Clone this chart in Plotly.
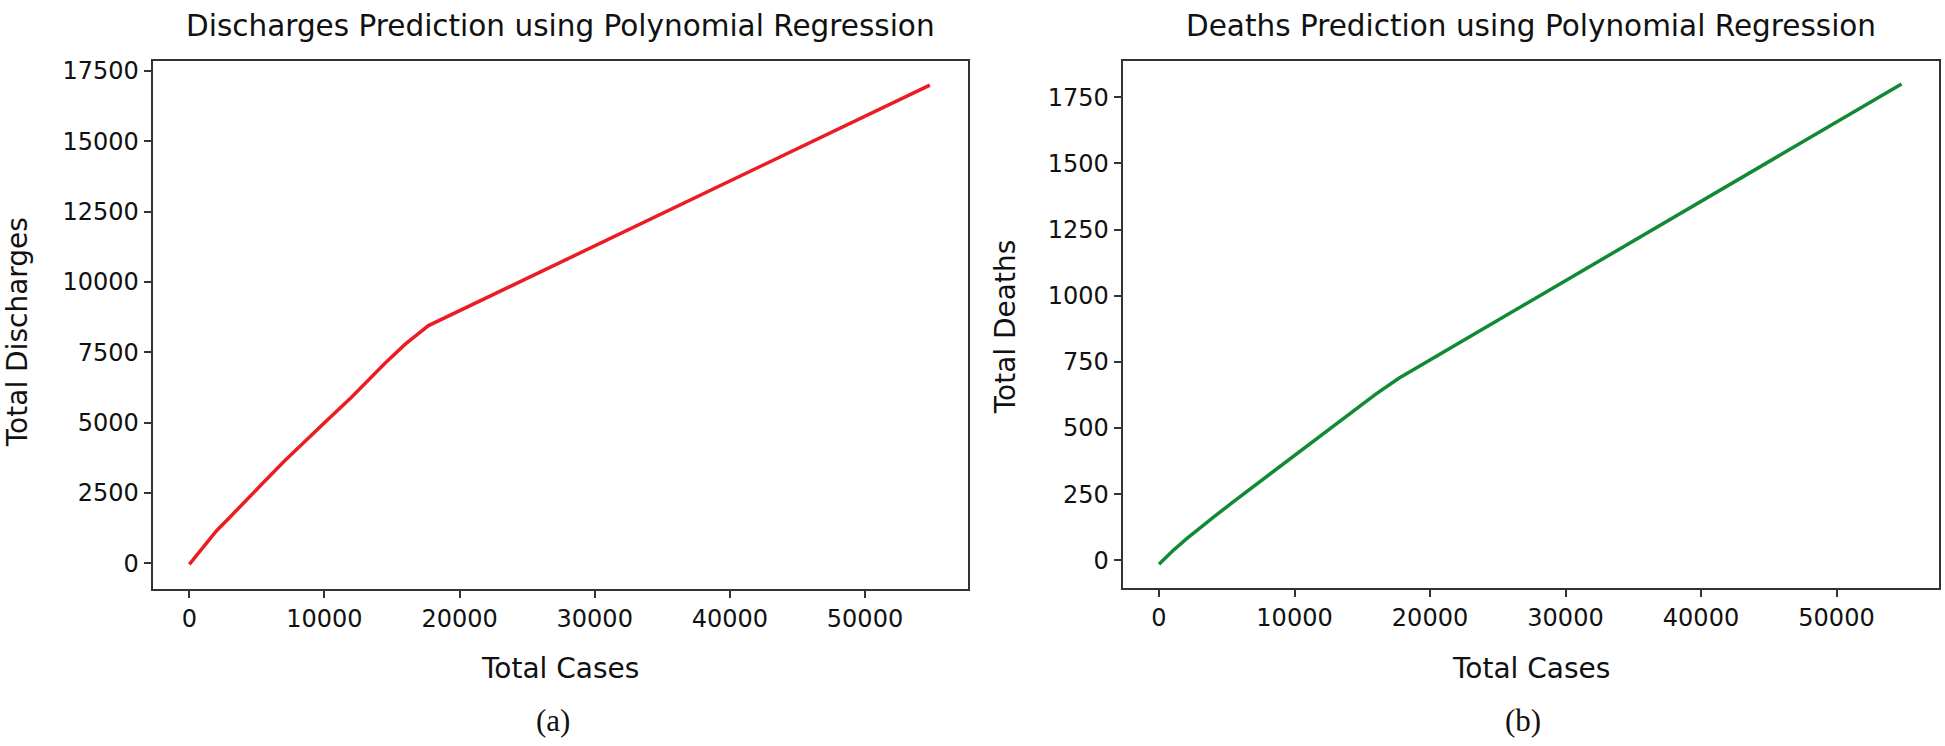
import plotly.graph_objects as go

# ---- data ----
total_cases = [0, 1000, 2000, 3000, 4000, 5500, 7000, 8500, 10000, 12000, 14500, 16000, 17700, 54800]
pred_discharges = [-40, 560, 1150, 1640, 2120, 2880, 3620, 4330, 5000, 5900, 7120, 7800, 8450, 17000]
pred_deaths = [-15, 35, 80, 122, 162, 222, 280, 338, 398, 476, 572, 628, 688, 1800]

x_ticks = [0, 10000, 20000, 30000, 40000, 50000]
y_ticks_dis = [0, 2500, 5000, 7500, 10000, 12500, 15000, 17500]
y_ticks_dea = [0, 250, 500, 750, 1000, 1250, 1500, 1750]

titles = ["Discharges Prediction using Polynomial Regression", "Deaths Prediction using Polynomial Regression"]
y_labels = ["Total Discharges", "Total Deaths"]
x_label = "Total Cases"
panel_tags = ["(a)", "(b)"]

W, H = 1945, 746

def px(x):
    return x / W

def py(y):
    return 1 - y / H

fig = go.Figure()
fig.add_trace(go.Scatter(x=total_cases, y=pred_discharges, mode="lines",
                         line=dict(color="#ec1c24", width=3.5), xaxis="x", yaxis="y", showlegend=False))
fig.add_trace(go.Scatter(x=total_cases, y=pred_deaths, mode="lines",
                         line=dict(color="#128a35", width=3.5), xaxis="x2", yaxis="y2", showlegend=False))

axis_common = dict(showline=True, mirror=True, linecolor="#333333", linewidth=2,
                   showgrid=False, zeroline=False, ticks="outside", ticklen=7, tickwidth=1.5,
                   tickcolor="#333333", tickfont=dict(family="DejaVu Sans", size=24, color="#111"))

fig.update_layout(
    width=W, height=H, margin=dict(l=0, r=0, t=0, b=0),
    paper_bgcolor="white", plot_bgcolor="white",
    xaxis=dict(domain=[px(152.7), px(967.7)], range=[-2710, 57600], tickvals=x_ticks,
               ticktext=[str(v) for v in x_ticks], anchor="y", **axis_common),
    yaxis=dict(domain=[py(588.5), py(57.3)], range=[-926, 17857], tickvals=y_ticks_dis,
               ticktext=[str(v) for v in y_ticks_dis], anchor="x", **axis_common),
    xaxis2=dict(domain=[px(1122.7), px(1939)], range=[-2680, 57565], tickvals=x_ticks,
                ticktext=[str(v) for v in x_ticks], anchor="y2", **axis_common),
    yaxis2=dict(domain=[py(587.5), py(57.3)], range=[-106, 1887], tickvals=y_ticks_dea,
                ticktext=[str(v) for v in y_ticks_dea], anchor="x2", **axis_common),
)

anns = []
title_font = dict(family="DejaVu Sans", size=29.5, color="#111")
label_font = dict(family="DejaVu Sans", size=28, color="#111")
tag_font = dict(family="Liberation Serif", size=31, color="#111")
centers = [(560, 330), (1530.8, 325)]
ylab_x = [17, 1005]
for i in range(2):
    cx = centers[i][0]
    anns.append(dict(text=titles[i], x=px(cx), y=py(22), xref="paper", yref="paper",
                     xanchor="center", yanchor="middle", showarrow=False, font=title_font))
    anns.append(dict(text=x_label, x=px(cx), y=py(668), xref="paper", yref="paper",
                     xanchor="center", yanchor="middle", showarrow=False, font=label_font))
    anns.append(dict(text=y_labels[i], x=px(ylab_x[i]), y=py(centers[i][1]), xref="paper", yref="paper",
                     xanchor="center", yanchor="middle", textangle=-90, showarrow=False, font=label_font))
    anns.append(dict(text=panel_tags[i], x=px([553, 1523][i]), y=py(720), xref="paper", yref="paper",
                     xanchor="center", yanchor="middle", showarrow=False, font=tag_font))
fig.update_layout(annotations=anns)

fig.write_html("out.html", config={"displayModeBar": False},
               post_script="document.body.style.margin='0';")
